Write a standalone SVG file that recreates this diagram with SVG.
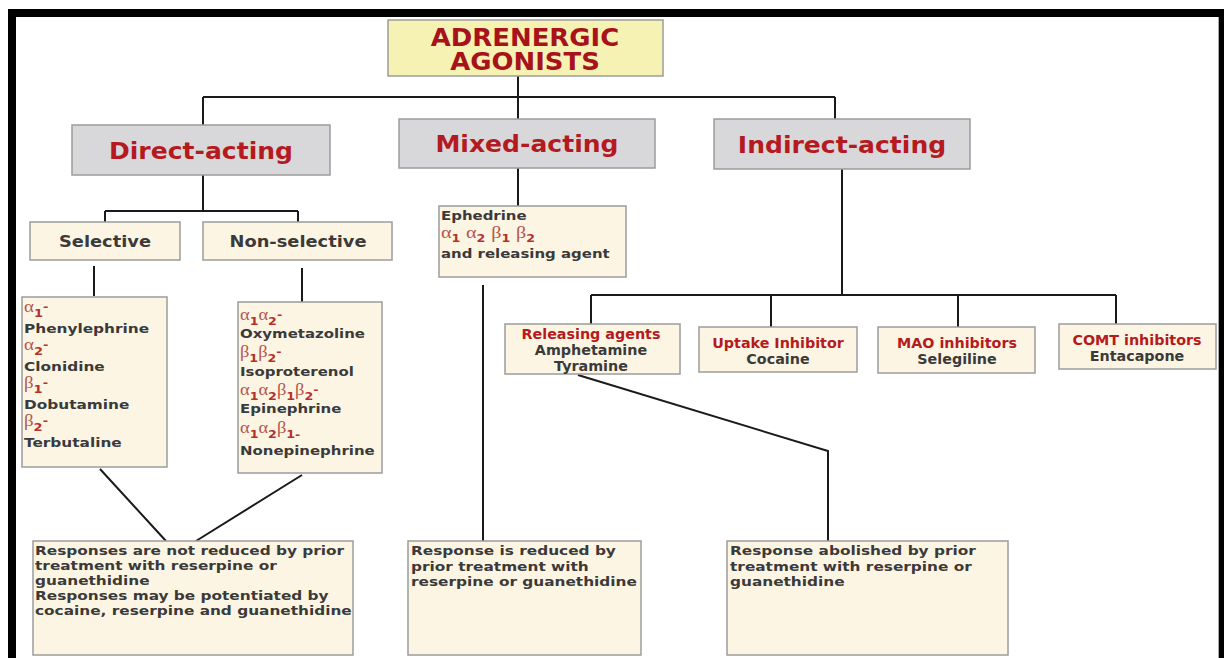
<svg xmlns="http://www.w3.org/2000/svg" width="1224" height="658" viewBox="0 0 1224 658">
<style>
.box{stroke:#9c9c9c;stroke-width:1.5}
.title{fill:#f6f2b4}
.gray{fill:#d8d8da}
.cream{fill:#fdf5e3}
.con{fill:none;stroke:#1a1a1a;stroke-width:2}
.t{font-family:"DejaVu Sans",Verdana,sans-serif;font-weight:bold}
.red{fill:#b51a20}
.dred{fill:#a8121a}
.dark{fill:#3a3a3a}
.head{font-size:23px}
.body{font-size:13px}
.gk{font-family:"Liberation Serif","DejaVu Serif",serif;font-size:16px;fill:#b4554e;font-weight:normal}
.gk2{font-size:17.5px}
.sb{font-family:"DejaVu Sans",sans-serif;font-weight:bold;font-size:11px;fill:#b5312b}
.lbl{font-size:13.5px}
</style>
<rect x="0" y="0" width="1224" height="658" fill="#fff"/>
<path d="M8,658 V9 H1224 V17 H16 V658 Z" fill="#000"/>
<rect x="1219" y="9" width="5" height="649" fill="#000"/>
<line x1="1218.5" y1="17" x2="1218.5" y2="658" stroke="#aaa" stroke-width="1"/>

<g id="connectors">
<path class="con" d="M518,76 V97 M203,97 H835 M203,97 V125 M518,97 V119 M835,97 V119"/>
<path class="con" d="M203,175 V211 M105,211 H298 M105,211 V222 M298,211 V222"/>
<path class="con" d="M94,266 V296 M302,268 V302"/>
<path class="con" d="M100,469 L166,541 M302,475 L196,541"/>
<path class="con" d="M518,168 V206 M483,285 V541"/>
<path class="con" d="M842,169 V295 M591,295 H1116 M591,295 V325 M771,295 V327 M958,295 V327 M1116,295 V325"/>
<path class="con" d="M578,375 L828,451 V541"/>
</g>

<g id="title">
<rect class="box title" x="388" y="20" width="275" height="56"/>
<text class="t dred" text-anchor="middle" font-size="24" transform="matrix(1.08,0,0,1,525,46)">ADRENERGIC</text>
<text class="t dred" text-anchor="middle" font-size="24" transform="matrix(1.08,0,0,1,525,70)">AGONISTS</text>
</g>

<g id="direct">
<rect class="box gray" x="72" y="125" width="258" height="50"/>
<text class="t red head" text-anchor="middle" transform="matrix(1.09,0,0,1,201,159)">Direct-acting</text>
</g>
<g id="mixed">
<rect class="box gray" x="399" y="119" width="256" height="49"/>
<text class="t red head" text-anchor="middle" transform="matrix(1.09,0,0,1,527,152)">Mixed-acting</text>
</g>
<g id="indirect">
<rect class="box gray" x="714" y="119" width="256" height="50"/>
<text class="t red head" text-anchor="middle" transform="matrix(1.09,0,0,1,842,153)">Indirect-acting</text>
</g>

<g id="selective">
<rect class="box cream" x="30" y="222" width="150" height="38"/>
<text class="t dark" font-size="15.5" text-anchor="middle" transform="matrix(1.15,0,0,1,105,247)">Selective</text>
</g>
<g id="nonselective">
<rect class="box cream" x="203" y="222" width="189" height="38"/>
<text class="t dark" font-size="15.5" text-anchor="middle" transform="matrix(1.15,0,0,1,298,247)">Non-selective</text>
</g>

<g id="selective-list">
<rect class="box cream" x="22" y="297" width="145" height="170"/>
<g transform="matrix(1.18,0,0,1,24,0)">
<text class="gk" x="0" y="312">α<tspan class="sb" dy="5">1</tspan><tspan class="sb" dy="-7">-</tspan></text>
<text class="t dark body" x="0" y="333">Phenylephrine</text>
<text class="gk" x="0" y="350">α<tspan class="sb" dy="5">2</tspan><tspan class="sb" dy="-7">-</tspan></text>
<text class="t dark body" x="0" y="371">Clonidine</text>
<text class="gk" x="0" y="388">β<tspan class="sb" dy="5">1</tspan><tspan class="sb" dy="-7">-</tspan></text>
<text class="t dark body" x="0" y="409">Dobutamine</text>
<text class="gk" x="0" y="426">β<tspan class="sb" dy="5">2</tspan><tspan class="sb" dy="-7">-</tspan></text>
<text class="t dark body" x="0" y="447">Terbutaline</text>
</g>
</g>

<g id="nonselective-list">
<rect class="box cream" x="238" y="302" width="144" height="171"/>
<g transform="matrix(1.15,0,0,1,240,0)">
<text class="gk" x="0" y="320">α<tspan class="sb" dy="5">1</tspan><tspan class="gk" dy="-5">α</tspan><tspan class="sb" dy="5">2</tspan><tspan class="sb" dy="-7">-</tspan></text>
<text class="t dark body" x="0" y="338">Oxymetazoline</text>
<text class="gk" x="0" y="357">β<tspan class="sb" dy="5">1</tspan><tspan class="gk" dy="-5">β</tspan><tspan class="sb" dy="5">2</tspan><tspan class="sb" dy="-7">-</tspan></text>
<text class="t dark body" x="0" y="376">Isoproterenol</text>
<text class="gk" x="0" y="395">α<tspan class="sb" dy="5">1</tspan><tspan class="gk" dy="-5">α</tspan><tspan class="sb" dy="5">2</tspan><tspan class="gk" dy="-5">β</tspan><tspan class="sb" dy="5">1</tspan><tspan class="gk" dy="-5">β</tspan><tspan class="sb" dy="5">2</tspan><tspan class="sb" dy="-7">-</tspan></text>
<text class="t dark body" x="0" y="413">Epinephrine</text>
<text class="gk" x="0" y="433">α<tspan class="sb" dy="5">1</tspan><tspan class="gk" dy="-5">α</tspan><tspan class="sb" dy="5">2</tspan><tspan class="gk" dy="-5">β</tspan><tspan class="sb" dy="5">1-</tspan></text>
<text class="t dark body" x="0" y="455">Nonepinephrine</text>
</g>
</g>

<g id="ephedrine">
<rect class="box cream" x="439" y="206" width="187" height="71"/>
<g transform="matrix(1.15,0,0,1,441,0)">
<text class="t dark body" x="0" y="220">Ephedrine</text>
<text class="gk gk2" x="0" y="238">α<tspan class="sb" dy="4">1</tspan><tspan class="gk gk2" dx="5" dy="-4">α</tspan><tspan class="sb" dy="4">2</tspan><tspan class="gk gk2" dx="5" dy="-4">β</tspan><tspan class="sb" dy="4">1</tspan><tspan class="gk gk2" dx="5" dy="-4">β</tspan><tspan class="sb" dy="4">2</tspan></text>
<text class="t dark body" x="0" y="258">and releasing agent</text>
</g>
</g>

<g id="releasing">
<rect class="box cream" x="505" y="324" width="175" height="50"/>
<text class="t red lbl" text-anchor="middle" transform="matrix(1.06,0,0,1,591,339)">Releasing agents</text>
<text class="t dark lbl" text-anchor="middle" transform="matrix(1.06,0,0,1,591,355)">Amphetamine</text>
<text class="t dark lbl" text-anchor="middle" transform="matrix(1.06,0,0,1,591,371)">Tyramine</text>
</g>
<g id="uptake">
<rect class="box cream" x="699" y="327" width="158" height="45"/>
<text class="t red lbl" text-anchor="middle" transform="matrix(1.06,0,0,1,778,348)">Uptake Inhibitor</text>
<text class="t dark lbl" text-anchor="middle" transform="matrix(1.06,0,0,1,778,364)">Cocaine</text>
</g>
<g id="mao">
<rect class="box cream" x="878" y="327" width="157" height="46"/>
<text class="t red lbl" text-anchor="middle" transform="matrix(1.06,0,0,1,957,348)">MAO inhibitors</text>
<text class="t dark lbl" text-anchor="middle" transform="matrix(1.06,0,0,1,957,364)">Selegiline</text>
</g>
<g id="comt">
<rect class="box cream" x="1059" y="324" width="157" height="45"/>
<text class="t red lbl" text-anchor="middle" transform="matrix(1.06,0,0,1,1137,345)">COMT inhibitors</text>
<text class="t dark lbl" text-anchor="middle" transform="matrix(1.06,0,0,1,1137,361)">Entacapone</text>
</g>

<g id="direct-response">
<rect class="box cream" x="33" y="541" width="320" height="114"/>
<text class="t dark body" transform="matrix(1.18,0,0,1,35,0)">
<tspan x="0" y="555">Responses are not reduced by prior</tspan>
<tspan x="0" y="570">treatment with reserpine or</tspan>
<tspan x="0" y="585">guanethidine</tspan>
<tspan x="0" y="600">Responses may be potentiated by</tspan>
<tspan x="0" y="615">cocaine, reserpine and guanethidine</tspan>
</text>
</g>
<g id="mixed-response">
<rect class="box cream" x="408" y="541" width="233" height="114"/>
<text class="t dark body" transform="matrix(1.18,0,0,1,411,0)">
<tspan x="0" y="555">Response is reduced by</tspan>
<tspan x="0" y="571">prior treatment with</tspan>
<tspan x="0" y="586">reserpine or guanethidine</tspan>
</text>
</g>
<g id="indirect-response">
<rect class="box cream" x="727" y="541" width="281" height="114"/>
<text class="t dark body" transform="matrix(1.18,0,0,1,730,0)">
<tspan x="0" y="555">Response abolished by prior</tspan>
<tspan x="0" y="571">treatment with reserpine or</tspan>
<tspan x="0" y="586">guanethidine</tspan>
</text>
</g>
</svg>
